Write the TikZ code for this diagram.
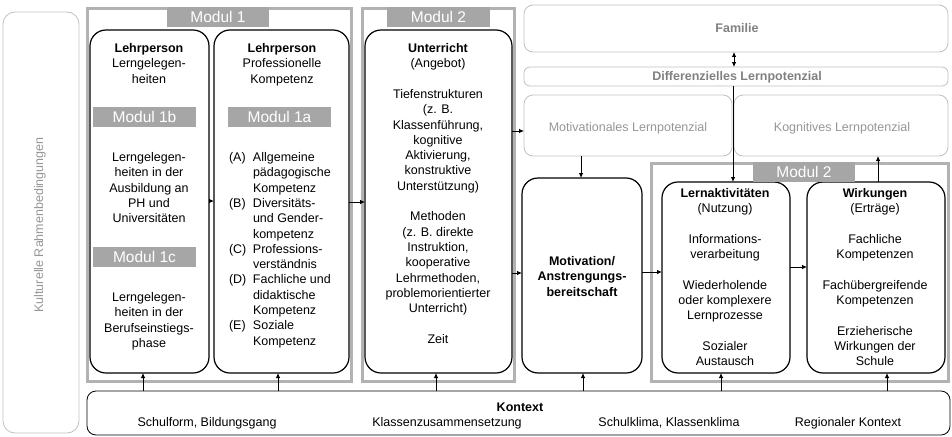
\documentclass[tikz,border=0pt]{standalone}
\usepackage{fontspec}
\setmainfont{Liberation Sans}
\usetikzlibrary{arrows.meta,calc}
\definecolor{framegray}{RGB}{178,178,178}
\definecolor{labelgray}{RGB}{166,166,166}
\definecolor{lightline}{RGB}{192,192,192}
\definecolor{graytxt}{RGB}{128,128,128}
\definecolor{palegraytxt}{RGB}{150,150,150}
\begin{document}
\begin{tikzpicture}[x=1pt,y=-1pt,
  every node/.style={inner sep=0pt, outer sep=0pt},
  blackbox/.style={draw=black, line width=1.2pt, rounded corners=16pt},
  frame/.style={draw=framegray, line width=3pt},
  modlabel/.style={fill=labelgray, text=white, font=\fontsize{15.5}{18}\selectfont, minimum width=103pt, minimum height=20pt},
  lightbox/.style={draw=lightline, line width=0.8pt, rounded corners=9pt},
  txt/.style={font=\fontsize{12.5}{15.3}\selectfont, align=center, anchor=north},
  one/.style={font=\fontsize{12.5}{15.3}\selectfont, anchor=base},
  arr/.style={-{Latex[length=5pt,width=4.5pt]}, line width=0.8pt},
  darr/.style={{Latex[length=5pt,width=4.5pt]}-{Latex[length=5pt,width=4.5pt]}, line width=0.8pt},
]
\useasboundingbox (0,0) rectangle (952,436);

% outer left box
\node[draw=lightline, line width=0.8pt, rounded corners=12pt, minimum width=76pt, minimum height=421pt] (ku) at (41,222.5) {};
\node[font=\fontsize{12.5}{15.3}\selectfont, text=palegraytxt, rotate=90] (kut) at (40,225) {Kulturelle Rahmenbedingungen};

% frames
\node[frame, minimum width=263.5pt, minimum height=372.5pt] (f1) at (219.25,194.75) {};
\node[frame, minimum width=152pt, minimum height=372.5pt] (f2) at (438.5,194.75) {};
\node[frame, minimum width=297pt, minimum height=217.5pt] (f3) at (800,272.25) {};

% black boxes
\node[blackbox, minimum width=119pt, minimum height=343pt] (b1) at (149.5,201.5) {};
\node[blackbox, minimum width=135pt, minimum height=343pt] (b2) at (281.5,201.5) {};
\node[blackbox, minimum width=147pt, minimum height=343pt] (u) at (438.5,201.5) {};
\node[blackbox, minimum width=120pt, minimum height=195pt] (mo) at (582,275.5) {};
\node[blackbox, minimum width=128pt, minimum height=191pt] (la) at (726,277.5) {};
\node[blackbox, minimum width=138pt, minimum height=191pt] (wi) at (876,277.5) {};

% light boxes
\node[lightbox, minimum width=424pt, minimum height=47pt] (fa) at (736,28.5) {};
\node[lightbox, rounded corners=6pt, minimum width=424pt, minimum height=19pt] (di) at (736,76.5) {};
\node[lightbox, minimum width=208pt, minimum height=61pt] (ml) at (628,125.5) {};
\node[lightbox, minimum width=214pt, minimum height=61pt] (kl) at (841,125.5) {};
\node[draw=black, line width=0.8pt, rounded corners=9pt, minimum width=863pt, minimum height=44pt] (ko) at (518.5,413) {};

% module labels
\node[modlabel, minimum width=102pt] (m1) at (218,17) {Modul 1};
\node[modlabel] (m2) at (438.5,17) {Modul 2};
\node[modlabel, minimum width=102pt] (m3) at (804,172) {Modul 2};
\node[modlabel] (m1b) at (144.5,117) {Modul 1b};
\node[modlabel] (m1a) at (279.5,117) {Modul 1a};
\node[modlabel] (m1c) at (144.5,257) {Modul 1c};

% texts
\node[txt] (t1a) at (149,41.8) {\strut\textbf{Lehrperson}\\Lerngelegen-\\heiten};
\node[txt] (t1b) at (149,150.8) {\strut Lerngelegen-\\heiten in der\\Ausbildung an\\PH und\\Universitäten};
\node[txt] (t1c) at (149,290.8) {\strut Lerngelegen-\\heiten in der\\Berufseinstiegs-\\phase};
\node[txt] (t2a) at (282,41.8) {\strut\textbf{Lehrperson}\\Professionelle\\Kompetenz};
\node[font=\fontsize{12.5}{15.3}\selectfont, anchor=north west] (t2b) at (229,150.8) {%
\begin{tabular}{@{}p{24pt}@{}l@{}}
(A) & Allgemeine\\
    & pädagogische\\
    & Kompetenz\\
(B) & Diversitäts-\\
    & und Gender-\\
    & kompetenz\\
(C) & Professions-\\
    & verständnis\\
(D) & Fachliche und\\
    & didaktische\\
    & Kompetenz\\
(E) & Soziale\\
    & Kompetenz
\end{tabular}};
\node[txt] (tu) at (438,41.8) {\strut\textbf{Unterricht}\\(Angebot)\\[15.3pt]Tiefenstrukturen\\(z. B.\\Klassenführung,\\kognitive\\Aktivierung,\\konstruktive\\Unterstützung)\\[15.3pt]Methoden\\(z. B. direkte\\Instruktion,\\kooperative\\Lehrmethoden,\\problemorientierter\\Unterricht)\\[15.3pt]Zeit};
\node[txt] (tmo) at (582,254.8) {\strut\textbf{Motivation/}\\\textbf{Anstrengungs-}\\\textbf{bereitschaft}};
\node[txt] (tla) at (725,186.8) {\strut\textbf{Lernaktivitäten}\\(Nutzung)\\[15.3pt]Informations-\\verarbeitung\\[15.3pt]Wiederholende\\oder komplexere\\Lernprozesse\\[15.3pt]Sozialer\\Austausch};
\node[txt] (twi) at (875,186.8) {\strut\textbf{Wirkungen}\\(Erträge)\\[15.3pt]Fachliche\\Kompetenzen\\[15.3pt]Fachübergreifende\\Kompetenzen\\[15.3pt]Erzieherische\\Wirkungen der\\Schule};

\node[one, text=graytxt, font=\fontsize{12.5}{15.3}\selectfont\bfseries] (tfa) at (737,32.5) {Familie};
\node[one, text=graytxt, font=\fontsize{12.5}{15.3}\selectfont\bfseries] (tdi) at (737,80.5) {Differenzielles Lernpotenzial};
\node[one, text=palegraytxt] (tml) at (628,131.5) {Motivationales Lernpotenzial};
\node[one, text=palegraytxt] (tkl) at (842,131.5) {Kognitives Lernpotenzial};

\node[one, font=\fontsize{12.5}{15.3}\selectfont\bfseries] (tko) at (520,411.5) {Kontext};
\node[one] (k1) at (207,426.5) {Schulform, Bildungsgang};
\node[one] (k2) at (447,426.5) {Klassenzusammensetzung};
\node[one] (k3) at (669,426.5) {Schulklima, Klassenklima};
\node[one] (k4) at (848,426.5) {Regionaler Kontext};

% helper coordinates
\coordinate (r201) at (0,201);
\coordinate (r202) at (0,202);
\coordinate (r131) at (0,131);
\coordinate (r273) at (0,273);
\coordinate (r272) at (0,272);
\coordinate (r267) at (0,267);
\coordinate (c581) at (581,0);
\coordinate (c733) at (733,0);
\coordinate (c734) at (734,0);
\coordinate (c878) at (878,0);
\coordinate (c143) at (143,0);
\coordinate (c278) at (278,0);
\coordinate (c436) at (436,0);
\coordinate (c583) at (583,0);
\coordinate (c721) at (721,0);
\coordinate (c887) at (887,0);

% connectors
\draw[arr] (b1.east |- r201) -- (b2.west |- r201);
\draw[arr] (b2.east |- r202) -- (u.west |- r202);
\draw[arr] (u.east |- r131) -- (ml.west |- r131);
\draw[arr] (u.east |- r273) -- (mo.west |- r273);
\draw[arr] (ml.south -| c581) -- (mo.north -| c581);
\draw[arr] (mo.east |- r272) -- (la.west |- r272);
\draw[arr] (la.east |- r267) -- (wi.west |- r267);
\draw[arr] (di.south -| c733) -- (la.north -| c733);
\draw[arr] (wi.north -| c878) -- (kl.south -| c878);
\draw[darr] (fa.south -| c734) -- (di.north -| c734);
\draw[arr] (ko.north -| c143) -- (b1.south -| c143);
\draw[arr] (ko.north -| c278) -- (b2.south -| c278);
\draw[arr] (ko.north -| c436) -- (u.south -| c436);
\draw[arr] (ko.north -| c583) -- (mo.south -| c583);
\draw[arr] (ko.north -| c721) -- (la.south -| c721);
\draw[arr] (ko.north -| c887) -- (wi.south -| c887);
\end{tikzpicture}
\end{document}
